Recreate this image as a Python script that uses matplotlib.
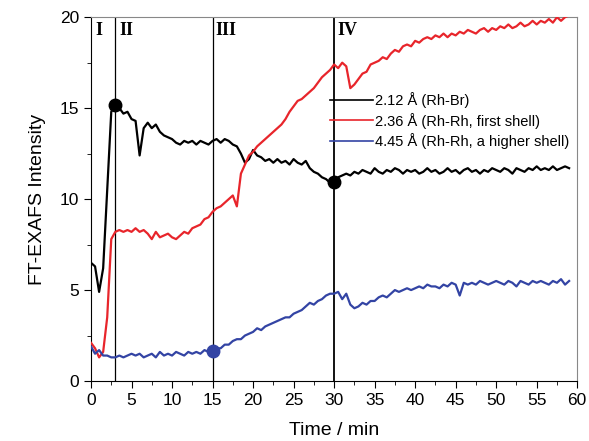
import numpy as np
import matplotlib.pyplot as plt
from matplotlib.ticker import MultipleLocator

# tiempo (min), paso de 0.5
tiempo = np.arange(0, 59.01, 0.5)

rh_br = [
    6.5, 6.3, 4.9, 6.2, 10.5, 14.8, 15.2, 15.0, 14.7, 14.8,
    14.4, 14.3, 12.4, 13.9, 14.2, 13.9, 14.1, 13.7, 13.5, 13.4,
    13.3, 13.1, 13.0, 13.2, 13.1, 13.2, 13.0, 13.2, 13.1, 13.0,
    13.2, 13.3, 13.1, 13.3, 13.2, 13.0, 12.9, 12.5, 12.0, 12.2,
    12.7, 12.4, 12.3, 12.1, 12.2, 12.0, 12.2, 12.0, 12.1, 11.9,
    12.2, 12.0, 11.9, 12.1, 11.7, 11.5, 11.4, 11.2, 11.1, 10.9,
    10.95, 11.2, 11.3, 11.4, 11.3, 11.5, 11.4, 11.6, 11.5, 11.4,
    11.7, 11.5, 11.4, 11.6, 11.5, 11.7, 11.6, 11.4, 11.6, 11.5,
    11.6, 11.4, 11.5, 11.7, 11.5, 11.6, 11.4, 11.5, 11.7, 11.5,
    11.6, 11.4, 11.6, 11.7, 11.5, 11.6, 11.4, 11.6, 11.5, 11.7,
    11.6, 11.5, 11.7, 11.6, 11.4, 11.7, 11.6, 11.5, 11.7, 11.6,
    11.8, 11.6, 11.7, 11.6, 11.8, 11.6, 11.7, 11.8, 11.7,
]

rh_rh_primera = [
    2.1, 1.8, 1.3, 1.6, 3.5, 7.8, 8.2, 8.3, 8.2, 8.3,
    8.2, 8.4, 8.2, 8.3, 8.1, 7.8, 8.2, 7.9, 8.0, 8.1,
    7.9, 7.8, 8.0, 8.2, 8.1, 8.4, 8.5, 8.6, 8.9, 9.0,
    9.3, 9.5, 9.6, 9.8, 10.0, 10.2, 9.6, 11.4, 11.9, 12.4,
    12.6, 12.9, 13.1, 13.3, 13.5, 13.7, 13.9, 14.1, 14.4, 14.8,
    15.1, 15.4, 15.5, 15.7, 15.9, 16.1, 16.4, 16.7, 16.9, 17.1,
    17.4, 17.2, 17.5, 17.3, 16.1, 16.3, 16.6, 16.9, 17.0, 17.4,
    17.5, 17.6, 17.8, 17.7, 18.0, 18.2, 18.1, 18.4, 18.5, 18.4,
    18.7, 18.6, 18.8, 18.9, 18.8, 19.0, 18.9, 19.1, 18.9, 19.1,
    19.0, 19.2, 19.1, 19.3, 19.2, 19.1, 19.3, 19.4, 19.2, 19.4,
    19.3, 19.5, 19.4, 19.6, 19.4, 19.5, 19.7, 19.5, 19.6, 19.8,
    19.6, 19.8, 19.7, 19.9, 19.7, 20.0, 19.8, 20.0, 20.1,
]

rh_rh_superior = [
    1.9, 1.5, 1.7, 1.4, 1.4, 1.3, 1.3, 1.4, 1.3, 1.4,
    1.5, 1.4, 1.5, 1.3, 1.4, 1.5, 1.3, 1.6, 1.4, 1.5,
    1.4, 1.6, 1.5, 1.4, 1.6, 1.5, 1.6, 1.5, 1.7, 1.6,
    1.65, 1.8, 1.8, 2.0, 2.0, 2.2, 2.3, 2.3, 2.5, 2.6,
    2.7, 2.9, 2.8, 3.0, 3.1, 3.2, 3.3, 3.4, 3.5, 3.5,
    3.7, 3.8, 3.9, 4.1, 4.3, 4.2, 4.4, 4.5, 4.7, 4.8,
    4.8, 4.9, 4.5, 4.8, 4.2, 4.0, 4.1, 4.3, 4.2, 4.4,
    4.4, 4.6, 4.7, 4.6, 4.8, 5.0, 4.9, 5.0, 5.1, 5.0,
    5.1, 5.2, 5.1, 5.3, 5.2, 5.2, 5.1, 5.3, 5.2, 5.4,
    5.3, 4.7, 5.4, 5.3, 5.4, 5.3, 5.5, 5.4, 5.3, 5.4,
    5.5, 5.4, 5.3, 5.5, 5.4, 5.2, 5.5, 5.4, 5.3, 5.5,
    5.4, 5.5, 5.4, 5.3, 5.5, 5.4, 5.6, 5.3, 5.5,
]

etiquetas = ['2.12 Å (Rh-Br)', '2.36 Å (Rh-Rh, first shell)', '4.45 Å (Rh-Rh, a higher shell)']

# puntos marcados
marcas_negras_t = [3, 30]
marcas_negras_y = [15.2, 10.95]
marca_azul_t = [15]
marca_azul_y = [1.65]

# limites de las etapas
etapas = [3, 15, 30]
nombres_etapas = ['I', 'II', 'III', 'IV']
pos_nombres = [0.5, 3.5, 15.4, 30.4]

plt.rcParams['font.family'] = ['Liberation Sans', 'DejaVu Sans']

fig = plt.figure(figsize=(5.89, 4.41), dpi=100)
ax = fig.add_axes([0.1545, 0.136, 0.8255, 0.825])

for t in etapas:
    ax.axvline(t, color='black', lw=0.9 if t != 30 else 1.3, zorder=1)

ax.plot(tiempo, rh_br, color='black', lw=1.6, label=etiquetas[0], zorder=3)
ax.plot(tiempo, rh_rh_primera, color='#e8252b', lw=1.6, label=etiquetas[1], zorder=3)
ax.plot(tiempo, rh_rh_superior, color='#3344a4', lw=1.6, label=etiquetas[2], zorder=3)

ax.plot(marcas_negras_t, marcas_negras_y, 'o', color='black', ms=9, zorder=4)
ax.plot(marca_azul_t, marca_azul_y, 'o', color='#3344a4', ms=9, zorder=4)

for nombre, x in zip(nombres_etapas, pos_nombres):
    ax.text(x, 19.75, nombre, family='Liberation Serif', fontweight='bold', fontsize=13,
            ha='left', va='top')

ax.set_xlim(0, 60)
ax.set_ylim(0, 20)
ax.xaxis.set_major_locator(MultipleLocator(5))
ax.xaxis.set_minor_locator(MultipleLocator(2.5))
ax.yaxis.set_major_locator(MultipleLocator(5))
ax.yaxis.set_minor_locator(MultipleLocator(2.5))
ax.tick_params(which='both', direction='out', top=False, right=False, labelsize=12.5)
ax.tick_params(which='major', length=5)
ax.tick_params(which='minor', length=3)
for s in ['top', 'right']:
    ax.spines[s].set_color('#888888')

ax.set_xlabel('Time / min', fontsize=14, labelpad=10)
ax.set_ylabel('FT-EXAFS Intensity', fontsize=14, labelpad=10)

leg = ax.legend(loc='upper left', bbox_to_anchor=(0.48, 0.81), frameon=False, fontsize=10.5,
                handlelength=2.9, handletextpad=0.2, labelspacing=0.3, borderaxespad=0)
for linea in leg.get_lines():
    linea.set_linewidth(1.2)

fig.savefig('out.png', dpi=100)
